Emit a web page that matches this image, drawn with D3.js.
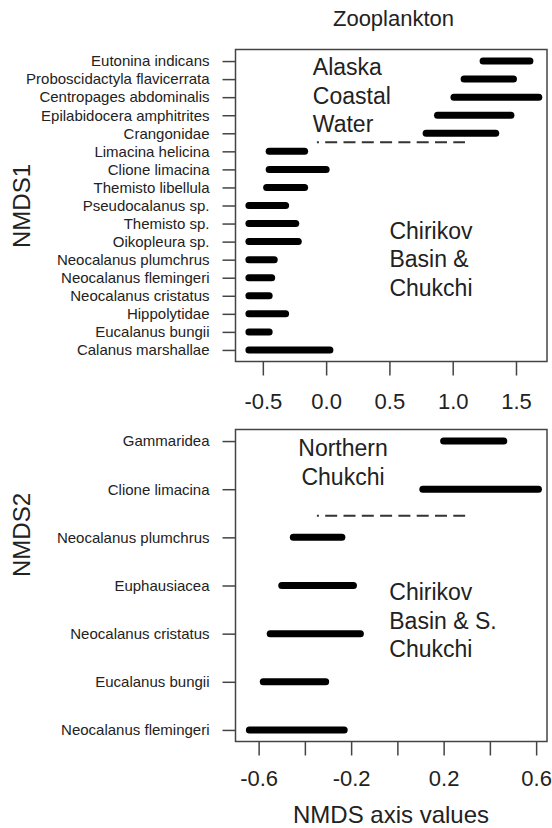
<!DOCTYPE html>
<html>
<head>
<meta charset="utf-8">
<script src="https://cdn.jsdelivr.net/npm/d3@7"></script>
<style>
  html, body { margin: 0; padding: 0; background: #fff; }
  svg { display: block; font-family: "Liberation Sans", Arial, sans-serif; }
</style>
</head>
<body>
<svg id="chart" width="552" height="828"></svg>
<script>
// NMDS1 panel: species listed top to bottom, with range start/end on the axis
const nmds1Species = [
  "Eutonina indicans", "Proboscidactyla flavicerrata", "Centropages abdominalis",
  "Epilabidocera amphitrites", "Crangonidae", "Limacina helicina", "Clione limacina",
  "Themisto libellula", "Pseudocalanus sp.", "Themisto sp.", "Oikopleura sp.",
  "Neocalanus plumchrus", "Neocalanus flemingeri", "Neocalanus cristatus",
  "Hippolytidae", "Eucalanus bungii", "Calanus marshallae"
];
const nmds1Start = [1.24, 1.09, 1.01, 0.88, 0.79, -0.45, -0.45, -0.47, -0.61, -0.61, -0.61, -0.61, -0.61, -0.61, -0.61, -0.61, -0.61];
const nmds1End   = [1.61, 1.48, 1.68, 1.46, 1.34, -0.17, 0.00, -0.17, -0.32, -0.24, -0.22, -0.41, -0.43, -0.45, -0.32, -0.45, 0.03];
const nmds1Ticks = [-0.5, 0.0, 0.5, 1.0, 1.5];
const nmds1TickLabels = ["-0.5", "0.0", "0.5", "1.0", "1.5"];

// NMDS2 panel
const nmds2Species = [
  "Gammaridea", "Clione limacina", "Neocalanus plumchrus", "Euphausiacea",
  "Neocalanus cristatus", "Eucalanus bungii", "Neocalanus flemingeri"
];
const nmds2Start = [0.20, 0.11, -0.45, -0.50, -0.55, -0.58, -0.64];
const nmds2End   = [0.46, 0.61, -0.24, -0.19, -0.16, -0.31, -0.23];
const nmds2Ticks = [-0.6, -0.4, -0.2, 0.0, 0.2, 0.4, 0.6];
const nmds2TickLabels = ["-0.6", "", "-0.2", "", "0.2", "", "0.6"];

// group boundaries (dashed separators, row position counted from the top)
const nmds1Separator = { from: -0.073, to: 1.097, between: 4.5 };
const nmds2Separator = { from: -0.348, to: 0.293, between: 1.55 };
// region names
const nmds1Regions = [
  { lines: ["Alaska", "Coastal", "Water"], x: -0.105, baseline: 75, anchor: "start" },
  { lines: ["Chirikov", "Basin &", "Chukchi"], x: 0.50, baseline: 238.5, anchor: "start" }
];
const nmds2Regions = [
  { lines: ["Northern", "Chukchi"], x: -0.235, baseline: 456, anchor: "middle" },
  { lines: ["Chirikov", "Basin & S.", "Chukchi"], x: -0.035, baseline: 600, anchor: "start" }
];

const svg = d3.select("#chart");
svg.append("rect").attr("width", 552).attr("height", 828).attr("fill", "#fff");

const left = 235.5, right = 547;
const textColor = "#222";
const frameColor = "#444";

function panel(opts) {
  const { species, start, end, top, bottom, xDomain, ticks, tickLabels, labelPad, sep, regions } = opts;
  const n = species.length;
  const x = d3.scaleLinear().domain(xDomain).range([left, right]);
  // row index (0 = top row) with 4% padding at both ends
  const yRow = d3.scaleLinear().domain([-0.04 * (n - 1), (n - 1) * 1.04]).range([top, bottom]);
  const yPos = name => yRow(species.indexOf(name));

  const g = svg.append("g");

  // left axis with species names
  const ax = g.append("g")
    .attr("transform", `translate(${left},0)`)
    .call(d3.axisLeft(d3.scaleOrdinal().domain(species).range(species.map(yPos)))
      .tickSize(13).tickPadding(13));
  ax.select(".domain").remove();
  ax.selectAll(".tick line").attr("stroke", frameColor).attr("stroke-width", 1.5);
  ax.selectAll(".tick text").attr("fill", textColor).style("font-size", "15px")
    .style("font-family", "Liberation Sans, Arial, sans-serif");

  // bottom axis
  const bx = g.append("g")
    .attr("transform", `translate(0,${bottom})`)
    .call(d3.axisBottom(x).tickValues(ticks).tickFormat((d, i) => tickLabels[i])
      .tickSize(14).tickPadding(labelPad));
  bx.select(".domain").remove();
  bx.selectAll(".tick line").attr("stroke", frameColor).attr("stroke-width", 1.5);
  bx.selectAll(".tick text").attr("fill", textColor).style("font-size", "22px")
    .style("font-family", "Liberation Sans, Arial, sans-serif");

  // frame
  g.append("rect")
    .attr("x", left).attr("y", top)
    .attr("width", right - left).attr("height", bottom - top)
    .attr("fill", "none").attr("stroke", frameColor).attr("stroke-width", 1.5);

  // range bars
  g.selectAll("line.bar").data(species).join("line")
    .attr("class", "bar")
    .attr("x1", (d, i) => x(start[i]))
    .attr("x2", (d, i) => x(end[i]))
    .attr("y1", d => yPos(d))
    .attr("y2", d => yPos(d))
    .attr("stroke", "#000")
    .attr("stroke-width", 7)
    .attr("stroke-linecap", "round");

  // group separator
  const sy = yRow(sep.between);
  g.append("line")
    .attr("x1", x(sep.from)).attr("x2", x(sep.to))
    .attr("y1", sy).attr("y2", sy)
    .attr("stroke", "#333").attr("stroke-width", 2)
    .attr("stroke-dasharray", "12,6.3")
    .attr("stroke-dashoffset", 10);

  // region names
  regions.forEach(r => {
    const t = g.append("text")
      .attr("x", x(r.x)).attr("y", r.baseline)
      .attr("text-anchor", r.anchor)
      .attr("fill", textColor)
      .style("font-size", "23px");
    r.lines.forEach((s, i) => {
      t.append("tspan").attr("x", x(r.x)).attr("dy", i === 0 ? 0 : 28.5).text(s);
    });
  });

  return g;
}

panel({
  species: nmds1Species, start: nmds1Start, end: nmds1End,
  top: 49.5, bottom: 361.5, xDomain: [-0.716, 1.745],
  ticks: nmds1Ticks, tickLabels: nmds1TickLabels, labelPad: 18,
  sep: nmds1Separator, regions: nmds1Regions
});

panel({
  species: nmds2Species, start: nmds2Start, end: nmds2End,
  top: 429.5, bottom: 741.5, xDomain: [-0.700, 0.647],
  ticks: nmds2Ticks, tickLabels: nmds2TickLabels, labelPad: 14.5,
  sep: nmds2Separator, regions: nmds2Regions
});

// titles
svg.append("text").attr("x", 393.5).attr("y", 26)
  .attr("text-anchor", "middle").attr("fill", textColor)
  .style("font-size", "22px").text("Zooplankton");

svg.append("text").attr("x", 391).attr("y", 823)
  .attr("text-anchor", "middle").attr("fill", textColor)
  .style("font-size", "24px").text("NMDS axis values");

svg.append("text")
  .attr("transform", "translate(30,206) rotate(-90)")
  .attr("text-anchor", "middle").attr("fill", textColor)
  .style("font-size", "24px").text("NMDS1");

svg.append("text")
  .attr("transform", "translate(30,535) rotate(-90)")
  .attr("text-anchor", "middle").attr("fill", textColor)
  .style("font-size", "24px").text("NMDS2");
</script>
</body>
</html>
